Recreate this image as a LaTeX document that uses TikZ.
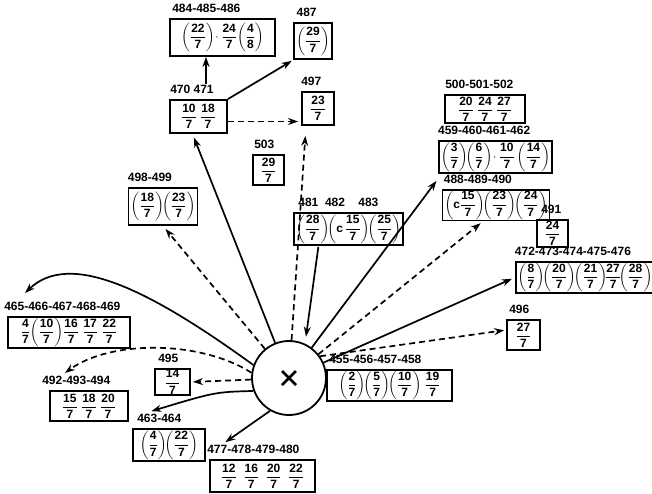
\documentclass[tikz,border=0pt]{standalone}
\usepackage{amsmath}
\usepackage{fontspec}
\setmainfont{Liberation Sans}
\usetikzlibrary{arrows.meta,calc}
\newcommand{\fr}[2]{\dfrac{\textbf{#1}}{\textbf{#2}}}
\newcommand{\pf}[2]{\biggl(\fr{#1}{#2}\biggr)}
\tikzset{
  bx/.style={draw, line width=1.8pt, inner xsep=2pt, inner ysep=1pt, font=\fontsize{12}{14}\selectfont},
  lbl/.style={font=\fontsize{12}{14}\selectfont\bfseries, inner sep=0pt, anchor=south west},
  ln/.style={line width=1.7pt, -{Stealth[length=10pt,width=7pt]}},
  dl/.style={ln, dash pattern=on 6pt off 4pt}
}
\begin{document}
\begin{tikzpicture}[x=1pt,y=-1pt]
\useasboundingbox (0,0) rectangle (652,493);
% central circle
\node[circle, draw, line width=1.8pt, minimum size=74pt, inner sep=0pt] (C) at (289,378) {};
\draw[line width=2.8pt] ($(C)+(-7,-7)$) -- ($(C)+(7,7)$);
\draw[line width=2.8pt] ($(C)+(-7,7)$) -- ($(C)+(7,-7)$);
% boxes
\node[bx, minimum width=105, minimum height=37] (n484) at (222.5,37.5) {$\pf{22}{7}\!\cdot\fr{24}{7}\pf{4}{8}$};
\node[lbl] (l484) at ([xshift=3,yshift=5]n484.north west) {484-485-486};
\node[bx, minimum width=34, minimum height=36] (n487) at (313,41) {$\pf{29}{7}$};
\node[lbl] (l487) at ([xshift=3,yshift=5]n487.north west) {487};
\node[bx, minimum width=57, minimum height=33] (n470) at (198.5,116.5) {$\fr{10}{7}\;\fr{18}{7}$};
\node[lbl] (l470) at ([xshift=1,yshift=5]n470.north west) {470\ 471};
\node[bx, minimum width=32, minimum height=33] (n497) at (318,108.5) {$\fr{23}{7}$};
\node[lbl] (l497) at ([xshift=0,yshift=5]n497.north west) {497};
\node[bx, minimum width=31, minimum height=30] (n503) at (268.5,170) {$\fr{29}{7}$};
\node[lbl] (l503) at ([xshift=2,yshift=5]n503.north west) {503};
\node[bx, minimum width=60, minimum height=37] (n498) at (163,206.5) {$\pf{18}{7}\!\pf{23}{7}$};
\node[lbl] (l498) at ([xshift=0,yshift=5]n498.north west) {498-499};
\node[bx, minimum width=93, minimum height=32] (n481) at (348.5,229) {$\pf{28}{7}\!\biggl(\textbf{c}\,\fr{15}{7}\biggr)\!\pf{25}{7}$};
\node[lbl] (l481) at ([xshift=5,yshift=5]n481.north west) {481\ \ 482\ \ \ \ 483};
\node[bx, minimum width=80, minimum height=28] (n500) at (485,109) {$\fr{20}{7}\;\fr{24}{7}\;\fr{27}{7}$};
\node[lbl] (l500) at ([xshift=1,yshift=5]n500.north west) {500-501-502};
\node[bx, minimum width=105, minimum height=32] (n459) at (495.5,157) {$\pf{3}{7}\!\pf{6}{7}\!\cdot\fr{10}{7}\,\pf{14}{7}$};
\node[lbl] (l459) at ([xshift=0,yshift=5]n459.north west) {459-460-461-462};
\node[bx, minimum width=88, minimum height=30] (n488) at (496,205) {$\biggl(\textbf{c}\fr{15}{7}\biggr)\!\pf{23}{7}\!\pf{24}{7}$};
\node[lbl] (l488) at ([xshift=2,yshift=5]n488.north west) {488-489-490};
\node[bx, minimum width=31, minimum height=27] (n491) at (552.5,233.5) {$\fr{24}{7}$};
\node[lbl] (l491) at ([xshift=5,yshift=5]n491.north west) {491};
\node[bx, minimum width=128, minimum height=27] (n472) at (585,277.5) {$\pf{8}{7}\!\pf{20}{7}\!\pf{21}{7}\!\fr{27}{7}\!\pf{28}{7}$};
\node[lbl] (l472) at ([xshift=0,yshift=5]n472.north west) {472-473-474-475-476};
\node[bx, minimum width=33, minimum height=30] (n496) at (523.5,335) {$\fr{27}{7}$};
\node[lbl] (l496) at ([xshift=3,yshift=5]n496.north west) {496};
\node[bx, minimum width=125, minimum height=27] (n455) at (389.5,385.5) {$\pf{2}{7}\!\pf{5}{7}\!\pf{10}{7}\;\fr{19}{7}$};
\node[lbl] (l455) at ([xshift=3,yshift=5]n455.north west) {455-456-457-458};
\node[bx, minimum width=122, minimum height=27] (n465) at (69,332.5) {$\fr{4}{7}\pf{10}{7}\fr{16}{7}\;\fr{17}{7}\;\fr{22}{7}$};
\node[lbl] (l465) at ([xshift=-3,yshift=5]n465.north west) {465-466-467-468-469};
\node[bx, minimum width=35, minimum height=23] (n495) at (172.5,382) {$\fr{14}{7}$};
\node[lbl] (l495) at ([xshift=4,yshift=5]n495.north west) {495};
\node[bx, minimum width=78, minimum height=30] (n492) at (89,406) {$\fr{15}{7}\;\fr{18}{7}\;\fr{20}{7}$};
\node[lbl] (l492) at ([xshift=-7,yshift=5]n492.north west) {492-493-494};
\node[bx, minimum width=72, minimum height=32] (n463) at (169,445) {$\pf{4}{7}\!\pf{22}{7}$};
\node[lbl] (l463) at ([xshift=5,yshift=5]n463.north west) {463-464};
\node[bx, minimum width=105, minimum height=32] (n477) at (262.5,476) {$\fr{12}{7}\;\;\fr{16}{7}\;\;\fr{20}{7}\;\;\fr{22}{7}$};
\node[lbl] (l477) at ([xshift=-2,yshift=5]n477.north west) {477-478-479-480};
% free ends
\coordinate (a465) at (25,293);
\coordinate (a492) at (65,373);
% connectors
\draw[ln, shorten <=1pt] ([xshift=14]l470.north) -- ([xshift=14]l470.north |- n484.south);
\draw[ln, shorten >=2pt] (n470.north east) -- (n487.south west);
\draw[dl, shorten >=3pt] ([yshift=-5]n470.east) -- ([yshift=-5]n470.east -| n497.west);
\draw[dl, shorten >=10pt] (C) -- ([xshift=-12]n497.south);
\draw[ln, shorten >=4pt] (C) -- ([xshift=-6]n470.south);
\draw[ln, shorten <=1pt, shorten >=7pt] ([xshift=-30]n481.south) -- (C.65);
\draw[dl, shorten >=4pt] (C) -- (n498.south);
\draw[ln] (C.160) .. controls (150,290) and (70,250) .. (a465);
\draw[dl] (C.172) .. controls (200,340) and (110,340) .. (a492);
\draw[dl, shorten >=2pt] (C) -- (n495.east);
\draw[ln] (C.200) .. controls (215,392) .. ([xshift=-8,yshift=3]l463.north);
\draw[ln] (C.240) -- ([xshift=-28,yshift=3]l477.north);
\draw[ln, shorten >=2pt] (C) -- ([xshift=-6]l488.west);
\draw[dl, shorten >=3pt] (C) -- ([xshift=-13]n488.south);
\draw[ln, shorten >=3pt] (C) -- (n472.west);
\draw[dl, shorten >=2pt] (C.35) -- ([yshift=5]n496.west);
\end{tikzpicture}
\end{document}
